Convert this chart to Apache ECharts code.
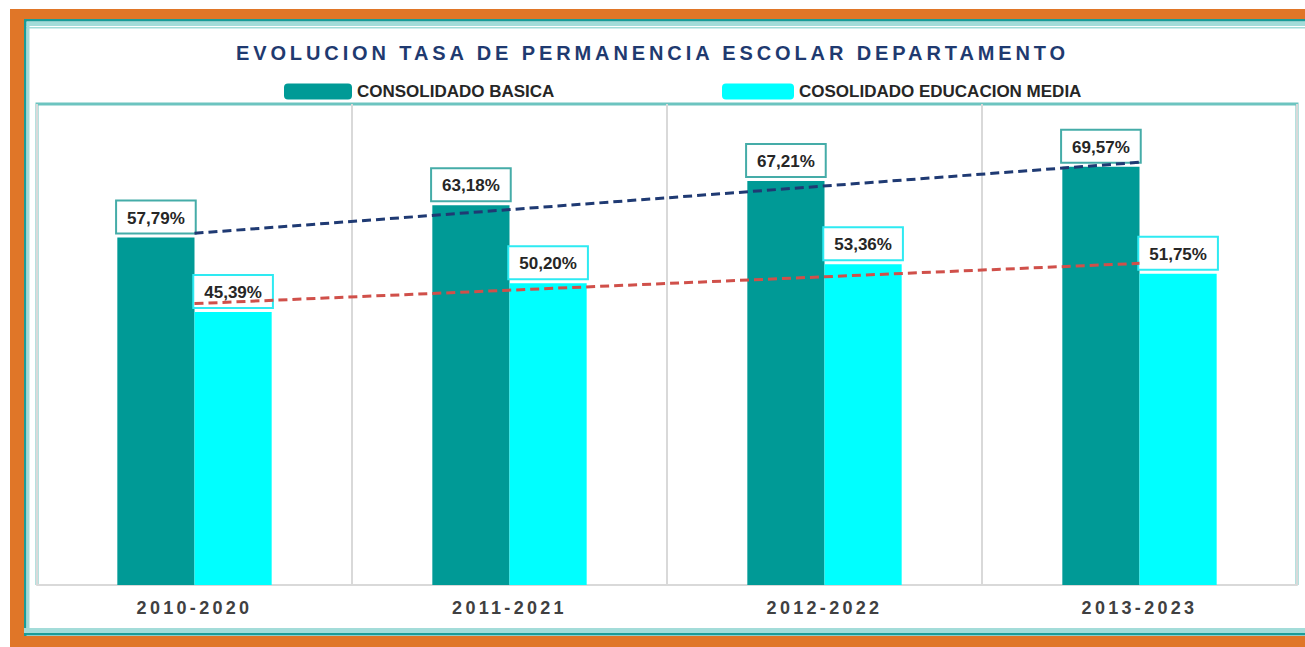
<!DOCTYPE html>
<html>
<head>
<meta charset="utf-8">
<script src="https://cdn.jsdelivr.net/npm/echarts@6.0.0/dist/echarts.min.js"></script>
<style>
  html, body { margin: 0; padding: 0; background: #ffffff; }
  #chart { width: 1305px; height: 647px; }
  #chart svg text[fill="#1F3A70" i] { letter-spacing: 3.9px; }
  #chart svg text[fill="#404041" i] { letter-spacing: 3.3px; }
</style>
</head>
<body>
<div id="chart"></div>
<script>
const titleText = 'EVOLUCION TASA DE PERMANENCIA ESCOLAR DEPARTAMENTO';
const seriesNames = ['CONSOLIDADO BASICA', 'COSOLIDADO EDUCACION MEDIA'];
const categories = ['2010-2020', '2011-2021', '2012-2022', '2013-2023'];
const basica = [57.79, 63.18, 67.21, 69.57];
const media = [45.39, 50.20, 53.36, 51.75];
// linear trend lines (first and last category)
const trendBasica = [58.5, null, null, 70.3];
const trendMedia = [46.8, null, null, 53.5];

const W = 1305, H = 647;
const G = { left: 37, right: 8, top: 104, bottom: 62 };
const ORANGE = '#E07628';
const TEAL_DARK = '#1A9C98';
const TEAL_LIGHT = '#A3DCD9';
const FONT = "'Liberation Sans', Arial, sans-serif";

function pct(v) { return v.toFixed(2).replace('.', ',') + '%'; }

function barLabel(border) {
  return {
    show: true,
    position: 'top',
    distance: 5,
    formatter: p => pct(p.value),
    fontFamily: FONT,
    fontWeight: 'bold',
    fontSize: 17,
    color: '#262626',
    backgroundColor: '#ffffff',
    borderColor: border,
    borderWidth: 2,
    padding: [8, 10, 6, 10]
  };
}

const gx0 = G.left, gx1 = W - G.right, gy0 = G.top, gy1 = H - G.bottom;

const chart = echarts.init(document.getElementById('chart'), null, { renderer: 'svg' });
chart.setOption({
  animation: false,
  backgroundColor: '#ffffff',
  graphic: [
    { type: 'rect', z: -10, silent: true, shape: { x: 10, y: 9, width: W - 10, height: H - 9 }, style: { fill: ORANGE } },
    { type: 'rect', z: -9, silent: true, shape: { x: 24, y: 19, width: W, height: 617 }, style: { fill: '#ffffff' } },
    { type: 'rect', z: -8, silent: true, shape: { x: 24, y: 19, width: W, height: 2.5 }, style: { fill: TEAL_DARK } },
    { type: 'rect', z: -8, silent: true, shape: { x: 24, y: 22, width: W, height: 4 }, style: { fill: TEAL_LIGHT } },
    { type: 'rect', z: -8, silent: true, shape: { x: 24, y: 27, width: W, height: 1.5 }, style: { fill: TEAL_LIGHT } },
    { type: 'rect', z: -8, silent: true, shape: { x: 24, y: 19, width: 2.5, height: 617 }, style: { fill: TEAL_DARK } },
    { type: 'rect', z: -8, silent: true, shape: { x: 26.5, y: 22, width: 3, height: 610 }, style: { fill: TEAL_LIGHT } },
    { type: 'rect', z: -8, silent: true, shape: { x: 24, y: 628, width: W, height: 5 }, style: { fill: TEAL_LIGHT } },
    { type: 'rect', z: -8, silent: true, shape: { x: 24, y: 633, width: W, height: 2.5 }, style: { fill: TEAL_DARK } },
    { type: 'polyline', z: -5, silent: true,
      shape: { points: [[gx0, gy1], [gx0, gy0], [gx1, gy0], [gx1, gy1]] },
      style: { stroke: '#6CC4C0', lineWidth: 3, fill: 'none' } }
  ],
  title: {
    text: titleText,
    left: 'center',
    top: 38,
    textStyle: { fontFamily: FONT, fontWeight: 'bold', fontSize: 20, color: '#1F3A70' }
  },
  legend: [
    {
      data: [seriesNames[0]], left: 284, top: 83, padding: 0, itemWidth: 68, itemHeight: 16,
      icon: 'roundRect',
      textStyle: { fontFamily: FONT, fontWeight: 'bold', fontSize: 17, color: '#262626' }
    },
    {
      data: [seriesNames[1]], left: 722, top: 83, padding: 0, itemWidth: 72, itemHeight: 16,
      icon: 'roundRect',
      textStyle: { fontFamily: FONT, fontWeight: 'bold', fontSize: 17, color: '#262626' }
    }
  ],
  grid: { left: G.left, right: G.right, top: G.top, bottom: G.bottom, containLabel: false },
  xAxis: {
    type: 'category',
    data: categories,
    axisLine: { show: true, lineStyle: { color: '#D9D9D9', width: 2 } },
    axisTick: { show: false },
    splitLine: { show: true, lineStyle: { color: '#D9D9D9', width: 2 } },
    axisLabel: { margin: 14, fontFamily: FONT, fontWeight: 'bold', fontSize: 18, color: '#404041' }
  },
  yAxis: {
    type: 'value', min: 0, max: 80, show: false,
    splitLine: { show: false }
  },
  series: [
    {
      name: seriesNames[0], type: 'bar', data: basica,
      barWidth: '24.5%', barGap: '0%',
      itemStyle: { color: '#009A96' },
      label: barLabel('#45ACA8')
    },
    {
      name: seriesNames[1], type: 'bar', data: media,
      barWidth: '24.5%', barGap: '0%',
      itemStyle: { color: '#00FFFF' },
      label: barLabel('#2EEAF2')
    },
    {
      name: 'trendBasica', type: 'line', data: trendBasica, connectNulls: true,
      symbol: 'none', z: 3,
      lineStyle: { color: '#1F3A73', width: 3, type: [9, 5] }
    },
    {
      name: 'trendMedia', type: 'line', data: trendMedia, connectNulls: true,
      symbol: 'none', z: 3,
      lineStyle: { color: '#D0504A', width: 3, type: [9, 5] }
    }
  ]
});
</script>
</body>
</html>
